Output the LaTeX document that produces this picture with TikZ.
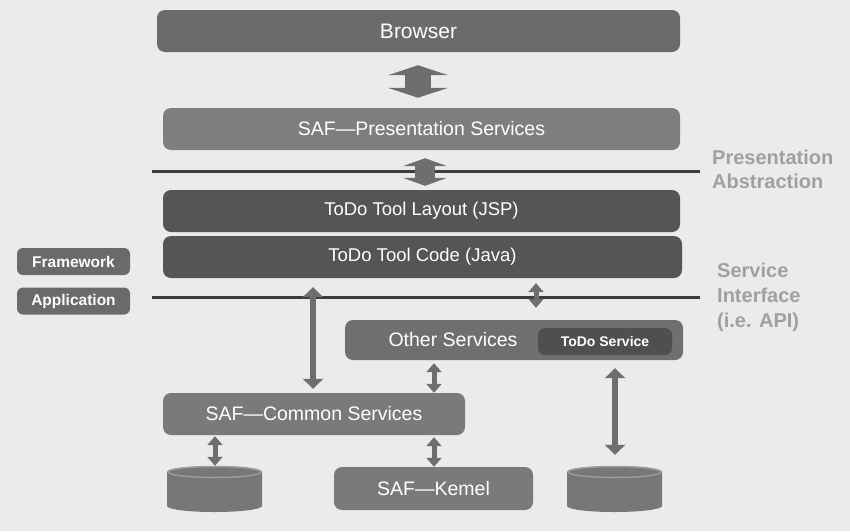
\documentclass[tikz,border=0pt]{standalone}
\usepackage{fontspec}
\setmainfont{Liberation Sans}
\usetikzlibrary{arrows.meta}
\definecolor{bg}{HTML}{EBEBEB}
\definecolor{cBrowser}{HTML}{6B6B6B}
\definecolor{cPres}{HTML}{7E7E7E}
\definecolor{cTool}{HTML}{555555}
\definecolor{cOther}{HTML}{6F6F6F}
\definecolor{cInner}{HTML}{4F4F4F}
\definecolor{cCommon}{HTML}{7A7A7A}
\definecolor{cTag}{HTML}{6A6A6A}
\definecolor{cArrow}{HTML}{6E6E6E}
\definecolor{cLine}{HTML}{3C3C3C}
\definecolor{cLabel}{HTML}{A0A0A0}
\definecolor{cCyl}{HTML}{777777}
\definecolor{cRim}{HTML}{9C9C9C}
\begin{document}
\begin{tikzpicture}[x=1pt,y=-1pt,
  box/.style={rounded corners=8pt, inner sep=0pt, text=white},
  big/.style={font=\fontsize{19.5}{22}\selectfont},
  tag/.style={box, rounded corners=6pt, fill=cTag, minimum width=113pt, minimum height=27pt, font=\fontsize{15.5}{18}\bfseries\selectfont},
  sepline/.style={draw=cLine, line width=3pt},
  sidelabel/.style={anchor=west, align=left, text=cLabel, inner sep=0pt},
  fatarrow/.style={draw=cArrow, line width=#1},
  thinarrow/.style={draw=cArrow, line width=5pt, {Triangle[width=15pt,length=9pt]}-{Triangle[width=15pt,length=9pt]}},
  longarrow/.style={draw=cArrow, line width=6pt, {Triangle[width=20pt,length=10pt]}-{Triangle[width=20pt,length=10pt]}}
]
\fill[bg] (0,0) rectangle (850,531);
\useasboundingbox (0,0) rectangle (850,531);

% separator lines
\coordinate (la) at (152,171); \coordinate (lb) at (700,171);
\coordinate (lc) at (152,297); \coordinate (ld) at (700,297);
\draw[sepline] (la) -- (lb);
\draw[sepline] (lc) -- (ld);

% boxes
\node[box, fill=cBrowser, minimum width=523pt, minimum height=42pt, font=\fontsize{21}{24}\selectfont] (browser) at (418.5,31) {Browser};
\node[box, big, fill=cPres, minimum width=517pt, minimum height=42pt] (pres) at (421.5,129) {SAF—Presentation Services};
\node[box, fill=cTool, minimum width=517pt, minimum height=42pt, font=\fontsize{18.5}{21}\selectfont] (layout) at (421.5,211) {ToDo Tool Layout (JSP)};
\node[box, fill=cTool, minimum width=519pt, minimum height=42pt, font=\fontsize{18.5}{21}\selectfont] (code) at (422.5,257) {ToDo Tool Code (Java)};

\node[tag] (framework) at (73.5,261.5) {Framework};
\node[tag] (application) at (73.5,301) {Application};

\node[box, fill=cOther, minimum width=338pt, minimum height=40pt] (other) at (514,340) {};
\node[text=white, big, inner sep=0pt] (othertext) at (453,340) {Other Services};
\node[box, rounded corners=7pt, fill=cInner, minimum width=134pt, minimum height=27pt, font=\fontsize{14}{16}\bfseries\selectfont] (todosvc) at (605,341.5) {ToDo Service};

\node[box, big, fill=cCommon, minimum width=302pt, minimum height=42pt] (common) at (314,414) {SAF—Common Services};
\node[box, big, fill=cCommon, minimum width=199pt, minimum height=43pt] (kernel) at (433.5,488.5) {SAF—Kemel};

% databases
\node[inner sep=0pt, minimum width=95pt, minimum height=46pt] (db1) at (214.5,489) {};
\node[inner sep=0pt, minimum width=95pt, minimum height=46pt] (db2) at (614.5,489) {};
\foreach \cx in {214.5,614.5}{
  \fill[cCyl] (\cx-47.5,472) -- (\cx-47.5,506)
     arc[start angle=180,end angle=0,x radius=47.5,y radius=6]
     -- (\cx+47.5,472)
     arc[start angle=0,end angle=-180,x radius=47.5,y radius=6] -- cycle;
  \draw[cRim, line width=1.5pt] (\cx,472) ellipse[x radius=46.5,y radius=5.5];
}

% side labels
\node[sidelabel, font=\fontsize{20}{24}\bfseries\selectfont] (presabs) at (712,169) {Presentation\\Abstraction};
\node[sidelabel, font=\fontsize{20}{25}\bfseries\selectfont] (svcif) at (717,297) {Service\\Interface\\(i.e. API)};

% fat arrows
\coordinate (xa) at (418,0);
\coordinate (xb) at (425,0);
\draw[fatarrow=26pt, {Triangle[width=60pt,length=10pt]}-{Triangle[width=60pt,length=10pt]}, shorten <=13pt, shorten >=10pt]
  (browser.south -| xa) -- (pres.north -| xa);
\draw[fatarrow=20pt, {Triangle[width=44pt,length=8pt]}-{Triangle[width=44pt,length=8pt]}, shorten <=8pt, shorten >=4pt]
  (pres.south -| xb) -- (layout.north -| xb);

% connectors
\coordinate (x1) at (536,0);
\coordinate (x2) at (313,0);
\coordinate (x3) at (434,0);
\coordinate (x4) at (215,0);
\coordinate (x5) at (615,0);
\draw[thinarrow, shorten <=5pt, shorten >=12pt] (code.south -| x1) -- (other.north -| x1);
\draw[longarrow, shorten <=9pt, shorten >=4pt] (code.south -| x2) -- (common.north -| x2);
\draw[thinarrow, shorten <=3pt, shorten >=0pt] (other.south -| x3) -- (common.north -| x3);
\draw[thinarrow, shorten <=1pt, shorten >=0pt] (common.south -| x4) -- (db1.north -| x4);
\draw[thinarrow, shorten <=2pt, shorten >=0pt] (common.south -| x3) -- (kernel.north -| x3);
\draw[longarrow, shorten <=8pt, shorten >=11pt] (other.south -| x5) -- (db2.north -| x5);
\end{tikzpicture}
\end{document}
